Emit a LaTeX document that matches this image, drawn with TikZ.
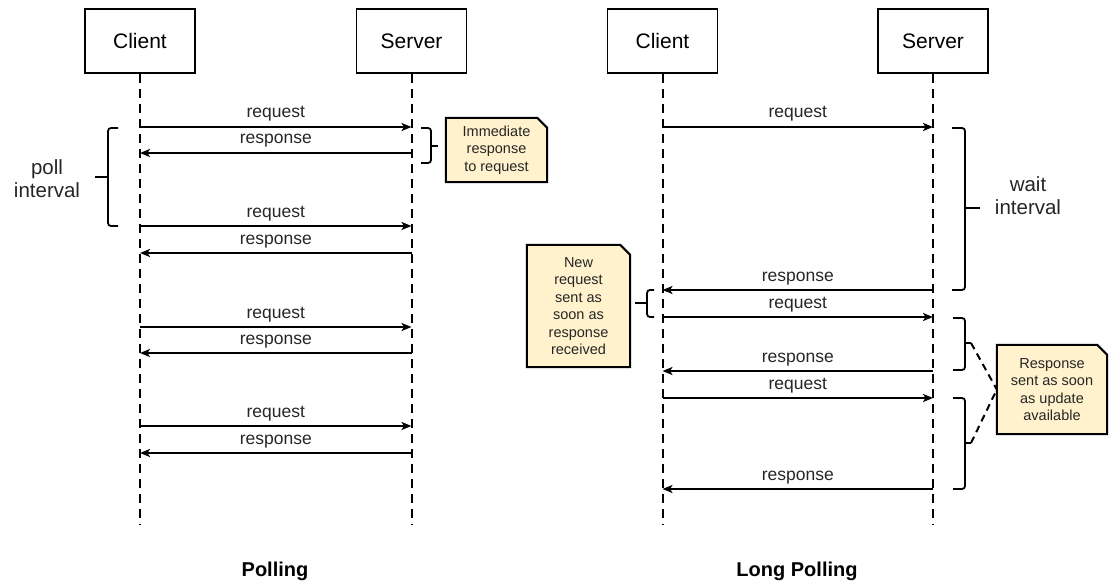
\documentclass[tikz,border=0pt]{standalone}
\usepackage{fontspec}
\setmainfont{Liberation Sans}
\usetikzlibrary{arrows.meta,backgrounds}
\definecolor{notefill}{RGB}{255,242,204}
\tikzset{
  actor/.style={draw,line width=1.8pt,minimum width=110pt,minimum height=64pt,
    font=\fontsize{21}{25}\selectfont},
  life/.style={line width=2pt,dash pattern=on 9pt off 6pt},
  msg/.style={line width=1.8pt,-{Stealth[length=10pt,width=8pt,inset=2.5pt]}},
  msglabel/.style={anchor=base,yshift=9pt,font=\fontsize{17.5}{21}\selectfont,text=black!85},
  bracket/.style={line width=1.8pt,rounded corners=3pt},
  interval/.style={align=center,font=\fontsize{20.5}{23}\selectfont,text=black!85},
  notetext/.style={inner sep=0pt,align=center,font=\fontsize{14.5}{17.5}\selectfont,text=black!85},
  noteshape/.style={draw,fill=notefill,line width=2pt},
  caption/.style={font=\fontsize{20}{24}\selectfont\bfseries}
}
\begin{document}
\begin{tikzpicture}[x=1pt,y=-1pt]
  \useasboundingbox (0,0) rectangle (1109,583);

  % actors
  \node[actor] (pc) at (140,41) {Client};
  \node[actor] (ps) at (411.5,41) {Server};
  \node[actor] (lc) at (662.5,41) {Client};
  \node[actor] (ls) at (933,41) {Server};

  % lifelines
  \foreach \a in {pc,ps,lc,ls}
    \draw[life] (\a.south) -- (\a |- 0,525);

  % polling messages
  \foreach \y/\from/\to/\t in {127/pc/ps/request,153/ps/pc/response,
      226/pc/ps/request,253/ps/pc/response,327/pc/ps/request,353/ps/pc/response,
      426/pc/ps/request,453/ps/pc/response}
    \draw[msg] (\from |- 0,\y) -- (\to |- 0,\y) node[midway,msglabel] {\t};

  % long polling messages
  \foreach \y/\from/\to/\t in {127/lc/ls/request,290/ls/lc/response,
      317/lc/ls/request,371/ls/lc/response,398/lc/ls/request,489/ls/lc/response}
    \draw[msg] (\from |- 0,\y) -- (\to |- 0,\y) node[midway,msglabel] {\t};

  % brackets
  \draw[bracket] (118,128) -- (108,128) -- (108,226) -- (118,226);
  \draw[bracket] (108,177) -- (95,177);
  \draw[bracket] (421,128) -- (431,128) -- (431,163) -- (421,163);
  \draw[bracket] (431,146) -- (438,146);
  \draw[bracket] (952,128) -- (965,128) -- (965,290) -- (952,290);
  \draw[bracket] (965,208) -- (980,208);
  \draw[bracket] (654,290) -- (647,290) -- (647,317) -- (654,317);
  \draw[bracket] (647,303) -- (635,303);
  \draw[bracket] (953,318) -- (965,318) -- (965,370) -- (953,370);
  \draw[bracket] (965,343) -- (971,343) coordinate (u1);
  \draw[bracket] (953,398) -- (965,398) -- (965,489) -- (953,489);
  \draw[bracket] (965,443) -- (971,443) coordinate (u2);

  \node[interval] (poll) at (47,179) {poll\\interval};
  \node[interval] (wait) at (1028,196) {wait\\interval};

  % notes
  \node[notetext,minimum width=101pt,minimum height=64pt] (imm) at (496.5,150)
    {Immediate\\response\\to request};
  \node[notetext,minimum width=103pt,minimum height=122pt] (newreq) at (578.5,306)
    {New\\request\\sent as\\soon as\\response\\received};
  \node[notetext,minimum width=110pt,minimum height=89pt] (upd) at (1052,389.5)
    {Response\\sent as soon\\as update\\available};
  \begin{scope}[on background layer]
    \foreach \n in {imm,newreq,upd}
      \draw[noteshape] (\n.south west) -- (\n.north west) -- ([xshift=-10pt]\n.north east)
        -- ([yshift=-10pt]\n.north east) -- (\n.south east) -- cycle;
  \end{scope}
  \draw[life,dash pattern=on 7pt off 5pt] (u1) -- (upd.west);
  \draw[life,dash pattern=on 7pt off 5pt] (u2) -- (upd.west);

  \node[caption] (t1) at (275,571) {Polling};
  \node[caption] (t2) at (797,571) {Long Polling};
\end{tikzpicture}
\end{document}
